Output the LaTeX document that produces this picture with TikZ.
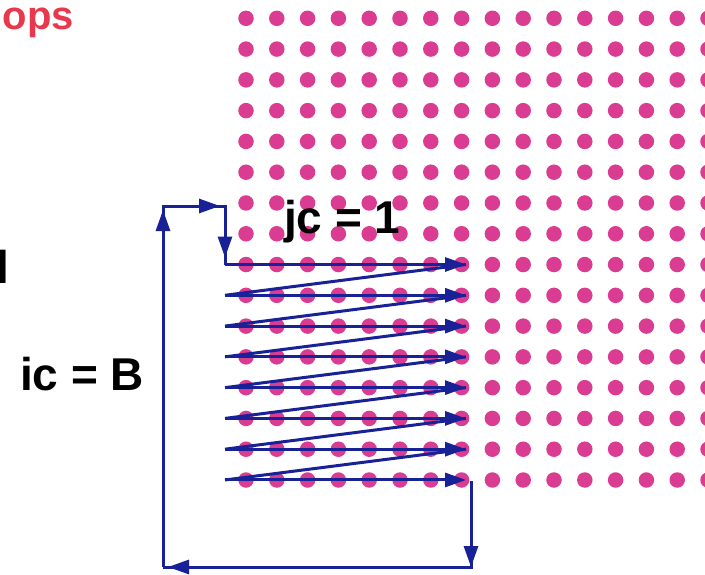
\documentclass[tikz,border=0pt]{standalone}
\usepackage{fontspec}
\setmainfont{Liberation Sans}
\usetikzlibrary{arrows.meta}
\definecolor{dotpink}{RGB}{218,60,146}
\definecolor{arrblue}{RGB}{24,34,150}
\definecolor{titlered}{RGB}{232,56,78}
\begin{document}
\begin{tikzpicture}[x=1pt,y=-1pt,
  dot/.style={circle,fill=dotpink,inner sep=0pt,minimum size=15.5pt},
  flow/.style={draw=arrblue,line width=3pt},
  tip/.style={-{Triangle[length=21pt,width=14pt]}},
  lbl/.style={font=\fontsize{46}{55}\selectfont\bfseries,inner sep=0pt}]
\useasboundingbox (0,0) rectangle (705,574);
\clip (0,0) rectangle (705,574);
% dot grid
\foreach \r in {0,...,15}{
  \foreach \c in {0,...,15}{
    \node[dot] (d\r-\c) at ({246+30.8*\c},{18.3+30.78*\r}) {};
  }
}
% corner coordinates
\coordinate (ul) at (163,206);
\coordinate (ur) at (225,206);
\coordinate (br0) at (471,481);
\coordinate (br) at (471,567);
\coordinate (bl) at (163,567);
\foreach \k in {0,...,7}{
  \coordinate (L\k) at (225,{264.5+30.78*\k});
  \coordinate (R\k) at (466,{264.5+30.78*\k});
}
% outer loop path
\draw[flow] (bl) -- (ul) -- (ur) -- (L0);
\draw[flow,tip,shorten >=4pt] (bl) -- (ul);
\draw[flow,tip,shorten >=5pt] (ul) -- (ur);
\draw[flow,tip,shorten >=7pt] (ur) -- (L0);
% zigzag rows
\foreach \k in {0,...,7}{
  \draw[flow,tip] (L\k) -- (R\k);
}
\foreach \k [evaluate=\k as \n using int(\k+1)] in {0,...,6}{
  \draw[flow] (R\k) -- (L\n);
}
% return path
\draw[flow] (br0) -- (br) -- (bl);
\draw[flow,tip] (br0) -- (br);
\draw[flow,tip,shorten >=5pt] (br) -- (bl);
% labels
\node[inner sep=0pt,anchor=base east,text=titlered,font=\fontsize{40}{48}\selectfont\bfseries] (ops) at (74,29) {ops};
\node[lbl,anchor=base west] (lcut) at (-4,283) {l};
\node[lbl,anchor=base west] (ic) at (20,390) {ic = B};
\node[lbl,anchor=base west,font=\fontsize{46}{55}\selectfont\bfseries] (jc) at (284,233) {jc = 1};
\end{tikzpicture}
\end{document}
